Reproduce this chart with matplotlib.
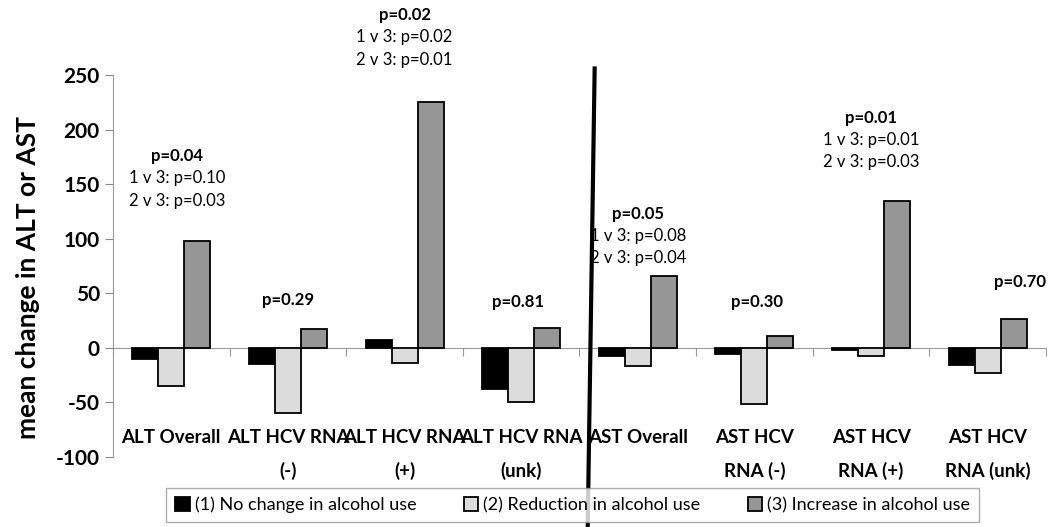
import matplotlib
matplotlib.use('Agg')
from matplotlib import pyplot as plt
import numpy as np

plt.rcParams['font.family'] = ['Lato', 'DejaVu Sans']
plt.rcParams['axes.unicode_minus'] = False

categories = ["ALT Overall", "ALT HCV RNA\n(-)", "ALT HCV RNA\n(+)", "ALT HCV RNA\n(unk)",
              "AST Overall", "AST HCV\nRNA (-)", "AST HCV\nRNA (+)", "AST HCV\nRNA (unk)"]
no_change = [-10, -15, 7, -38, -7, -6, -2, -16]
reduction = [-35, -60, -14, -50, -17, -51, -7, -23]
increase = [98, 17, 225, 18, 66, 11, 135, 26]
series_names = ["(1) No change in alcohol use", "(2) Reduction in alcohol use",
                "(3) Increase in alcohol use"]

# p-value annotations: (x, y of bold line, extra lines, bold line)
notes = [
    (0.05, 176, ["1 v 3: p=0.10", "2 v 3: p=0.03"], "p=0.04"),
    (1.0, 44, [], "p=0.29"),
    (2.0, 305, ["1 v 3: p=0.02", "2 v 3: p=0.01"], "p=0.02"),
    (2.97, 42, [], "p=0.81"),
    (4.0, 123, ["1 v 3: p=0.08", "2 v 3: p=0.04"], "p=0.05"),
    (5.02, 42, [], "p=0.30"),
    (6.0, 211, ["1 v 3: p=0.01", "2 v 3: p=0.03"], "p=0.01"),
    (7.28, 60, [], "p=0.70"),
]

fig = plt.figure(figsize=(10.5, 5.27), dpi=100)
ax = fig.add_axes([0.1076, 0.1328, 0.8886, 0.7249])

x = np.arange(len(categories))
w = 0.223
colors = ['#000000', '#dcdcdc', '#969696']
for k, vals in enumerate([no_change, reduction, increase]):
    ax.bar(x + (k - 1) * w, vals, w, color=colors[k], edgecolor='black',
           linewidth=1.3, label=series_names[k], zorder=3)

ax.set_xlim(-0.5, len(categories) - 0.5)
ax.set_ylim(-100, 250)
ax.set_yticks(range(-100, 251, 50))
ax.tick_params(axis='y', labelsize=15, colors='#888888', length=6, direction='out')
for lbl in ax.get_yticklabels():
    lbl.set_color('black')
    lbl.set_fontweight('bold')

ax.spines['top'].set_visible(False)
ax.spines['right'].set_visible(False)
ax.spines['left'].set_color('#999999')
ax.spines['bottom'].set_position(('data', 0))
ax.spines['bottom'].set_color('#999999')
ax.set_xticks(np.arange(len(categories) + 1) - 0.5)
ax.set_xticklabels([])
ax.tick_params(axis='x', colors='#999999', length=6, direction='out')

for i, c in enumerate(categories):
    ax.text(i, -74, c, ha='center', va='top', fontsize=13.5, fontweight='bold',
            linespacing=2.05, clip_on=False)

ax.set_ylabel("mean change in ALT or AST", fontsize=19, fontweight='bold')
ax.yaxis.set_label_coords(-0.078, 0.47)

for nx, ny, lines, head in notes:
    ax.text(nx, ny, head, ha='center', va='center', fontsize=12, fontweight='bold', clip_on=False)
    for j, ln in enumerate(lines):
        ax.text(nx, ny - 20.5 * (j + 1), ln, ha='center', va='center', fontsize=12, clip_on=False)

leg = fig.legend(loc='lower center', bbox_to_anchor=(0.5455, 0.0), ncol=3, fontsize=13,
                 frameon=True, fancybox=False, edgecolor='#999999', handlelength=0.8,
                 handleheight=0.8, handletextpad=0.3, columnspacing=2.6, borderpad=0.5,
                 borderaxespad=0.25)
leg.get_frame().set_linewidth(1.0)

ax.plot([3.63, 3.57], [256, -167], color='black', linewidth=3, clip_on=False, zorder=10)

fig.savefig('out.png', dpi=100)
